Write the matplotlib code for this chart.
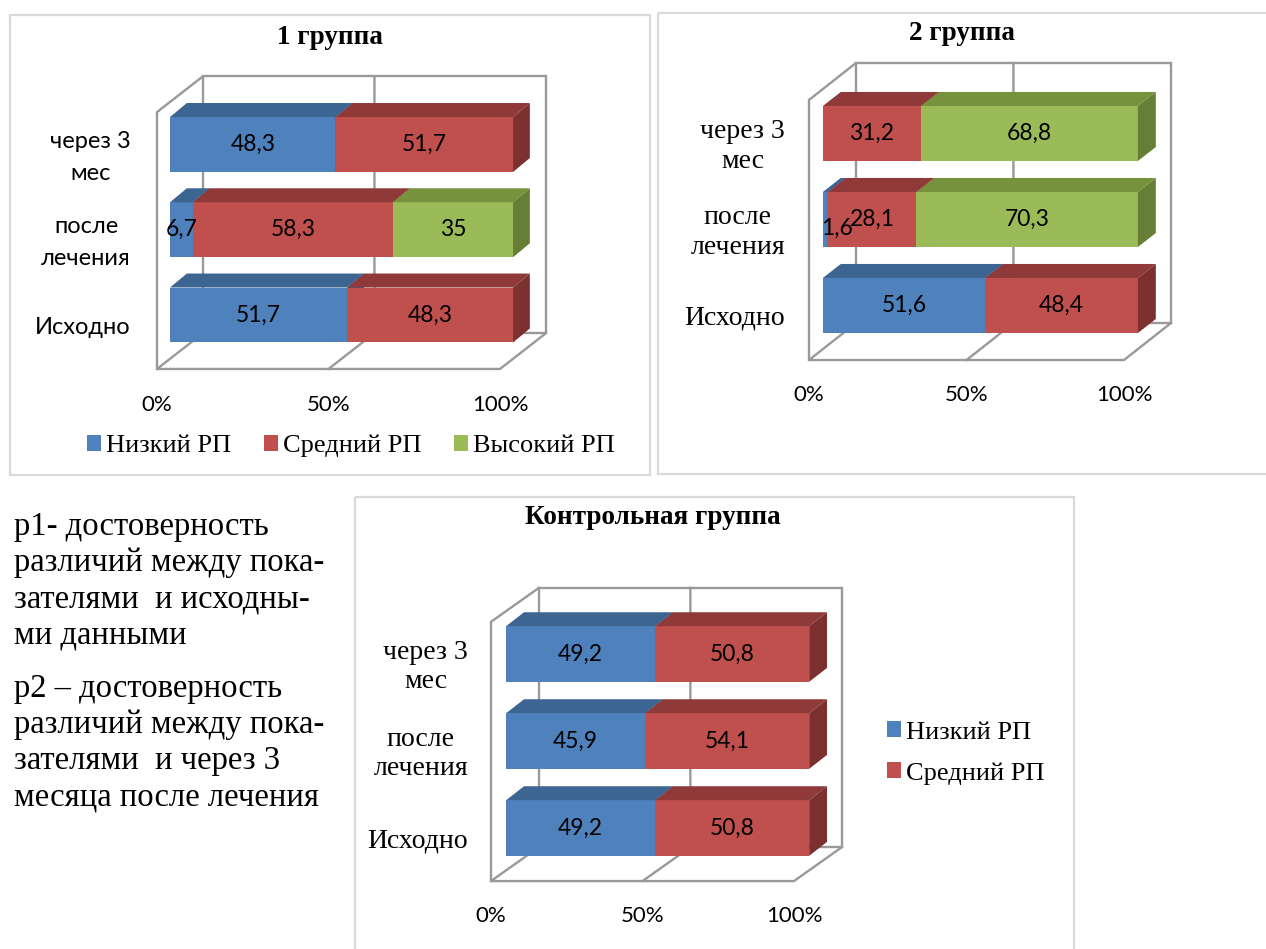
import numpy as np
import matplotlib
matplotlib.use('Agg')
import matplotlib.pyplot as plt
from matplotlib.patches import Polygon, Rectangle

W, H = 1266, 949

# rows go bottom to top: Исходно, после лечения, через 3 мес
categories = ['Исходно', 'после\nлечения', 'через 3\nмес']
levels = ['Низкий РП', 'Средний РП', 'Высокий РП']

g1_low = [51.7, 6.7, 48.3]
g1_mid = [48.3, 58.3, 51.7]
g1_high = [0, 35, 0]

g2_low = [51.6, 1.6, 0]
g2_mid = [48.4, 28.1, 31.2]
g2_high = [0, 70.3, 68.8]

ctrl_low = [49.2, 45.9, 49.2]
ctrl_mid = [50.8, 54.1, 50.8]

xticks = [0, 50, 100]
xticklabels = ['0%', '50%', '100%']

notes = [
    'р1- достоверность',
    'различий между пока-',
    'зателями  и исходны-',
    'ми данными',
    'р2 – достоверность',
    'различий между пока-',
    'зателями  и через 3',
    'месяца после лечения',
]

front = ['#4F81BD', '#C0504D', '#9BBB59']
top = ['#3D6591', '#8F3A38', '#77923D']
side = ['#355883', '#7C302F', '#667E35']
wall = '#999999'

SANS = 'Lato'
SERIF = 'Liberation Serif'

fig = plt.figure(figsize=(W / 100, H / 100), dpi=100)

# page layer in pixels for the frames and the notes
bg = fig.add_axes([0, 0, 1, 1])
bg.set_xlim(0, W)
bg.set_ylim(H, 0)
bg.axis('off')
for (l, t, r, b) in [(10, 15, 650, 475), (658, 13, 1268, 474), (355, 497, 1074, 952)]:
    bg.add_patch(Rectangle((l, t), r - l, b - t, fill=False, ec='#D9D9D9', lw=1.6))

baselines = [535, 571, 607, 643, 697, 733, 769, 805]
for line, yb in zip(notes, baselines):
    bg.text(14, yb, line, fontsize=23.5, family=SERIF, va='baseline', ha='left')


def fmt(v):
    return ('%g' % v).replace('.', ',')


def draw_panel(g, series, cat_font, cat_size, cat_ls):
    l, t, r, b = g['box']
    ax = fig.add_axes([l / W, 1 - b / H, (r - l) / W, (b - t) / H])
    ax.set_xlim((l - g['x0']) / g['sx'], (r - g['x0']) / g['sx'])
    ax.set_ylim((g['y0'] - b) / g['sy'], (g['y0'] - t) / g['sy'])
    ax.axis('off')
    ax.patch.set_alpha(0)

    dx, dy, fl, tp = g['dx'], g['dy'], g['floor'], g['top']
    bx, bh, tdx, tdy = g['bx'], g['bh'], g['tdx'], g['tdy']
    lw = 1.7
    # back wall, left wall and floor
    ax.add_patch(Rectangle((dx, fl + dy), 100, tp - fl, fill=False, ec=wall, lw=lw))
    ax.plot([0, 0, dx], [fl, tp, tp + dy], color=wall, lw=lw)
    ax.plot([dx, 0, 100, 100 + dx], [fl + dy, fl, fl, fl + dy], color=wall, lw=lw)
    ax.plot([50, 50 + dx, 50 + dx], [fl, fl + dy, tp + dy], color=wall, lw=lw)

    ys = np.arange(len(categories))
    handles = []
    starts = np.zeros(len(categories))
    for k, vals in enumerate(series):
        vals = np.array(vals, dtype=float)
        bars = ax.barh(ys, vals, left=starts + bx, height=bh, color=front[k], zorder=3)
        handles.append(bars)
        for i in ys:
            v = vals[i]
            if v <= 0:
                continue
            s = starts[i] + bx
            e = s + v
            yt = i + bh / 2
            yb = i - bh / 2
            ax.add_patch(Polygon([(s, yt), (e, yt), (e + tdx, yt + tdy), (s + tdx, yt + tdy)],
                                 closed=True, fc=top[k], ec='none', zorder=3))
            ax.add_patch(Polygon([(e, yb), (e + tdx, yb + tdy), (e + tdx, yt + tdy), (e, yt)],
                                 closed=True, fc=side[k], ec='none', zorder=3))
            if v < 3:
                ax.text(s - 0.6, i - 0.1, fmt(v), ha='left', va='center',
                        fontsize=16.5, family=SANS, zorder=5)
            else:
                ax.text(s + v / 2, i, fmt(v), ha='center', va='center',
                        fontsize=16.5, family=SANS, zorder=5)
        starts = starts + vals

    for i, c in zip(ys, categories):
        ax.text(-7.6, i - 0.15, c, ha='right', va='center', multialignment='center',
                fontsize=cat_size, family=cat_font, linespacing=cat_ls)
    for xv, lab in zip(xticks, xticklabels):
        ax.text(xv, fl - g['tick'], lab, ha='center', va='center', fontsize=16, family=SANS)
    return ax, handles


g1 = dict(box=(10, 15, 650, 475), x0=157, sx=3.43, y0=315, sy=85.25,
          dx=13.4, dy=0.42, floor=-0.633, top=2.38, bx=3.8, bh=0.645,
          tdx=4.9, tdy=0.164, tick=0.42)
g2 = dict(box=(658, 13, 1266, 474), x0=809, sx=3.15, y0=305.5, sy=86,
          dx=14.9, dy=0.43, floor=-0.634, top=2.39, bx=4.4, bh=0.64,
          tdx=5.7, tdy=0.163, tick=0.41)
g3 = dict(box=(355, 497, 1074, 949), x0=491, sx=3.03, y0=828, sy=87,
          dx=15.8, dy=0.39, floor=-0.61, top=2.37, bx=5.0, bh=0.64,
          tdx=5.9, tdy=0.16, tick=0.40)

ax1, h1 = draw_panel(g1, [g1_low, g1_mid, g1_high], SANS, 17, 1.66)
ax2, h2 = draw_panel(g2, [g2_low, g2_mid, g2_high], SERIF, 20, 1.29)
ax3, h3 = draw_panel(g3, [ctrl_low, ctrl_mid], SERIF, 20, 1.25)

title_kw = dict(fontsize=19.5, family=SERIF, fontweight='bold', ha='center', va='center')
bg.text(330, 37, '1 группа', **title_kw)
bg.text(962, 33, '2 группа', **title_kw)
bg.text(653, 518, 'Контрольная группа', **title_kw)

leg_kw = dict(frameon=False, handlelength=0.52, handleheight=0.52, handletextpad=0.2,
              prop={'family': SERIF, 'size': 19}, borderpad=0, borderaxespad=0)
fig.legend(h1, levels, loc='center', bbox_to_anchor=(351 / W, 1 - 446 / H),
           ncol=3, columnspacing=1.25, **leg_kw)
fig.legend(h3, levels[:2], loc='center left', bbox_to_anchor=(887 / W, 1 - 753 / H),
           ncol=1, labelspacing=0.7, **leg_kw)

fig.savefig('out.png', dpi=100)
